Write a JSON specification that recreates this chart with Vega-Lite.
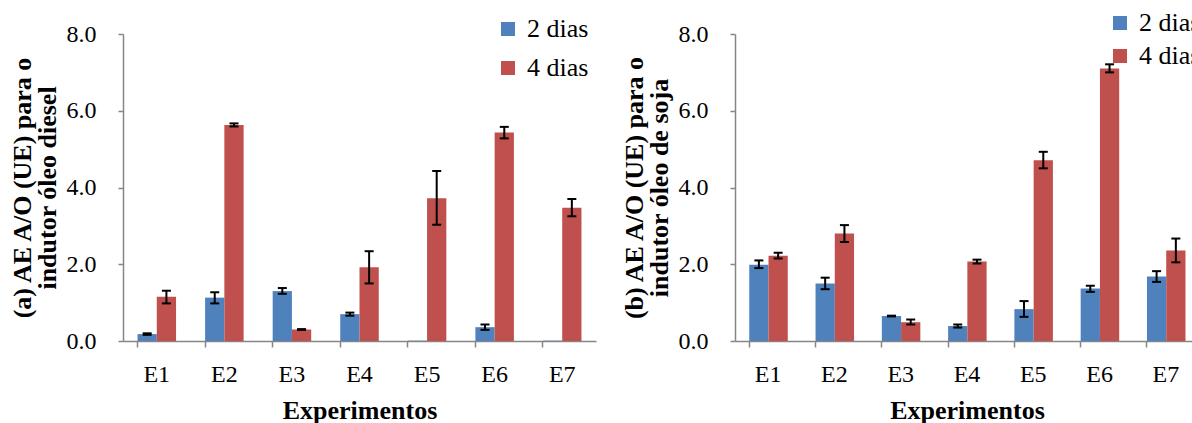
{
  "$schema": "https://vega.github.io/schema/vega-lite/v6.json",
  "background": "white",
  "padding": {"left": 8, "top": 10, "right": 0, "bottom": 0},
  "config": {
    "font": "Liberation Serif",
    "view": {"stroke": null},
    "style": {"guide-label": {"font": "Liberation Serif", "fill": "#000000"}, "guide-title": {"font": "Liberation Serif", "fill": "#000000"}},
    "axis": {
      "labelFont": "Liberation Serif", "labelFontSize": 24, "labelColor": "#000000",
      "titleFont": "Liberation Serif", "titleFontSize": 26, "titleFontWeight": "bold", "titleColor": "#000000",
      "domainColor": "#868686", "domainWidth": 1.5, "tickColor": "#868686", "tickWidth": 1.5, "tickSize": 6, "grid": false
    },
    "legend": {"padding": 0, "labelFont": "Liberation Serif", "labelFontSize": 26, "labelColor": "#000000", "symbolType": "square", "symbolSize": 196, "symbolStrokeWidth": 0, "labelOffset": 6}
  },
  "datasets": {
    "a": [
      {"exp": "E1", "dias": "2 dias", "media": 0.18, "lo": 0.16, "hi": 0.20},
      {"exp": "E1", "dias": "4 dias", "media": 1.15, "lo": 0.98, "hi": 1.31},
      {"exp": "E2", "dias": "2 dias", "media": 1.13, "lo": 0.98, "hi": 1.27},
      {"exp": "E2", "dias": "4 dias", "media": 5.63, "lo": 5.59, "hi": 5.67},
      {"exp": "E3", "dias": "2 dias", "media": 1.30, "lo": 1.23, "hi": 1.38},
      {"exp": "E3", "dias": "4 dias", "media": 0.30, "lo": 0.29, "hi": 0.31},
      {"exp": "E4", "dias": "2 dias", "media": 0.70, "lo": 0.66, "hi": 0.74},
      {"exp": "E4", "dias": "4 dias", "media": 1.92, "lo": 1.50, "hi": 2.34},
      {"exp": "E5", "dias": "2 dias", "media": 0.01, "lo": null, "hi": null},
      {"exp": "E5", "dias": "4 dias", "media": 3.72, "lo": 3.03, "hi": 4.43},
      {"exp": "E6", "dias": "2 dias", "media": 0.36, "lo": 0.29, "hi": 0.43},
      {"exp": "E6", "dias": "4 dias", "media": 5.43, "lo": 5.28, "hi": 5.58},
      {"exp": "E7", "dias": "2 dias", "media": 0.01, "lo": null, "hi": null},
      {"exp": "E7", "dias": "4 dias", "media": 3.47, "lo": 3.25, "hi": 3.70}
    ],
    "b": [
      {"exp": "E1", "dias": "2 dias", "media": 1.99, "lo": 1.90, "hi": 2.10},
      {"exp": "E1", "dias": "4 dias", "media": 2.22, "lo": 2.15, "hi": 2.30},
      {"exp": "E2", "dias": "2 dias", "media": 1.50, "lo": 1.35, "hi": 1.65},
      {"exp": "E2", "dias": "4 dias", "media": 2.80, "lo": 2.58, "hi": 3.02},
      {"exp": "E3", "dias": "2 dias", "media": 0.65, "lo": 0.64, "hi": 0.66},
      {"exp": "E3", "dias": "4 dias", "media": 0.49, "lo": 0.43, "hi": 0.56},
      {"exp": "E4", "dias": "2 dias", "media": 0.39, "lo": 0.35, "hi": 0.43},
      {"exp": "E4", "dias": "4 dias", "media": 2.07, "lo": 2.02, "hi": 2.12},
      {"exp": "E5", "dias": "2 dias", "media": 0.83, "lo": 0.63, "hi": 1.04},
      {"exp": "E5", "dias": "4 dias", "media": 4.71, "lo": 4.50, "hi": 4.93},
      {"exp": "E6", "dias": "2 dias", "media": 1.37, "lo": 1.28, "hi": 1.44},
      {"exp": "E6", "dias": "4 dias", "media": 7.10, "lo": 7.00, "hi": 7.21},
      {"exp": "E7", "dias": "2 dias", "media": 1.68, "lo": 1.54, "hi": 1.82},
      {"exp": "E7", "dias": "4 dias", "media": 2.36, "lo": 2.05, "hi": 2.67}
    ]
  },
  "spacing": 24,
  "resolve": {"legend": {"color": "independent"}},
  "hconcat": [
    {
      "width": 473, "height": 307,
      "data": {"name": "a"},
      "encoding": {
        "x": {"field": "exp", "type": "nominal", "scale": {"paddingInner": 0.43, "paddingOuter": 0.215},
              "axis": {"title": "Experimentos", "labelAngle": 0, "bandPosition": 0, "labelPadding": 15, "titlePadding": 11,
                       "labelFont": "Liberation Serif", "titleFont": "Liberation Serif"}},
        "xOffset": {"field": "dias", "type": "nominal", "scale": {"paddingInner": 0, "paddingOuter": 0}}
      },
      "layer": [
        {
          "mark": {"type": "bar"},
          "encoding": {
            "y": {"field": "media", "type": "quantitative", "scale": {"domain": [0, 8], "nice": false},
                  "axis": {"values": [0, 2, 4, 6, 8], "format": ".1f", "labelPadding": 22, "tickSize": 5,
                           "labelFont": "Liberation Serif", "titleFont": "Liberation Serif",
                           "title": ["(a) AE A/O (UE) para o", "indutor óleo diesel"], "titleLineHeight": 25, "titlePadding": 6}},
            "color": {"field": "dias", "type": "nominal",
                      "scale": {"domain": ["2 dias", "4 dias"], "range": ["#4F81BD", "#C0504D"]},
                      "legend": {"title": null, "orient": "none", "legendX": 372, "legendY": -18, "rowPadding": 13,
                                 "labelFont": "Liberation Serif", "labelFontSize": 26,
                                 "encode": {"labels": {"update": {"font": {"value": "Liberation Serif"}, "fontSize": {"value": 26}}}}}}
          }
        },
        {"mark": {"type": "rule", "color": "black", "strokeWidth": 2},
         "encoding": {"y": {"field": "lo", "type": "quantitative"}, "y2": {"field": "hi"}}},
        {"mark": {"type": "tick", "color": "black", "thickness": 2, "size": 9, "opacity": 1},
         "encoding": {"y": {"field": "lo", "type": "quantitative"}}},
        {"mark": {"type": "tick", "color": "black", "thickness": 2, "size": 9, "opacity": 1},
         "encoding": {"y": {"field": "hi", "type": "quantitative"}}}
      ]
    },
    {
      "width": 464, "height": 307,
      "data": {"name": "b"},
      "encoding": {
        "x": {"field": "exp", "type": "nominal", "scale": {"paddingInner": 0.43, "paddingOuter": 0.215},
              "axis": {"title": "Experimentos", "labelAngle": 0, "bandPosition": 0, "labelPadding": 15, "titlePadding": 11,
                       "labelFont": "Liberation Serif", "titleFont": "Liberation Serif"}},
        "xOffset": {"field": "dias", "type": "nominal", "scale": {"paddingInner": 0, "paddingOuter": 0}}
      },
      "layer": [
        {
          "mark": {"type": "bar"},
          "encoding": {
            "y": {"field": "media", "type": "quantitative", "scale": {"domain": [0, 8], "nice": false},
                  "axis": {"values": [0, 2, 4, 6, 8], "format": ".1f", "labelPadding": 22, "tickSize": 5,
                           "labelFont": "Liberation Serif", "titleFont": "Liberation Serif",
                           "title": ["(b) AE A/O (UE) para o", "indutor óleo de soja"], "titleLineHeight": 25, "titlePadding": 6}},
            "color": {"field": "dias", "type": "nominal",
                      "scale": {"domain": ["2 dias", "4 dias"], "range": ["#4F81BD", "#C0504D"]},
                      "legend": {"title": null, "orient": "none", "legendX": 372, "legendY": -24, "rowPadding": 7,
                                 "labelFont": "Liberation Serif", "labelFontSize": 26,
                                 "encode": {"labels": {"update": {"font": {"value": "Liberation Serif"}, "fontSize": {"value": 26}}}}}}
          }
        },
        {"mark": {"type": "rule", "color": "black", "strokeWidth": 2},
         "encoding": {"y": {"field": "lo", "type": "quantitative"}, "y2": {"field": "hi"}}},
        {"mark": {"type": "tick", "color": "black", "thickness": 2, "size": 9, "opacity": 1},
         "encoding": {"y": {"field": "lo", "type": "quantitative"}}},
        {"mark": {"type": "tick", "color": "black", "thickness": 2, "size": 9, "opacity": 1},
         "encoding": {"y": {"field": "hi", "type": "quantitative"}}}
      ]
    }
  ]
}
